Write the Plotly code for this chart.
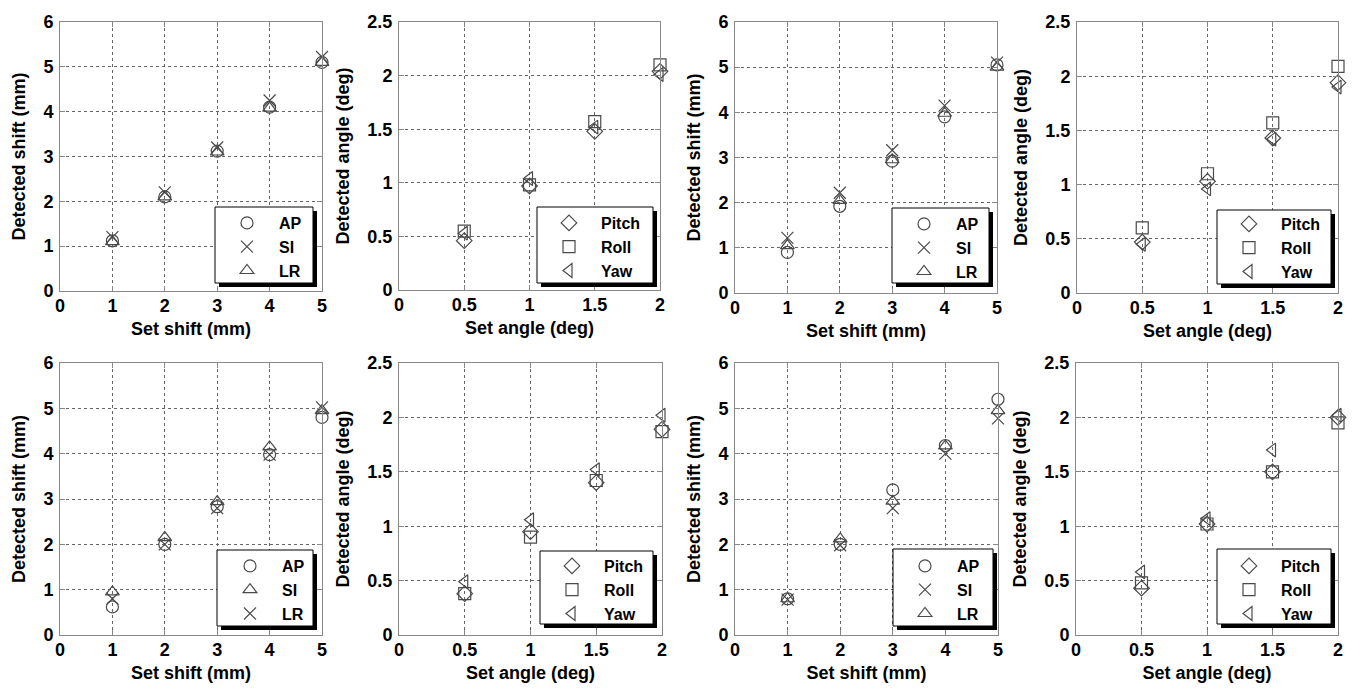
import plotly.graph_objects as go

W, H = 1360, 693

set_shift = [1, 2, 3, 4, 5]
set_angle = [0.5, 1, 1.5, 2]
shift_ticks = [0, 1, 2, 3, 4, 5]
shift_yticks = [0, 1, 2, 3, 4, 5, 6]
angle_xticks = [0, 0.5, 1, 1.5, 2]
angle_yticks = [0, 0.5, 1, 1.5, 2, 2.5]
angle_xticklabels = ["0", "0.5", "1", "1.5", "2"]
angle_yticklabels = ["0", "0.5", "1", "1.5", "2", "2.5"]

# Panel 1 (top-left)
p1_ap = [1.12, 2.10, 3.12, 4.10, 5.10]
p1_si = [1.20, 2.20, 3.20, 4.25, 5.22]
p1_lr = [1.10, 2.10, 3.10, 4.08, 5.10]
# Panel 2
p2_pitch = [0.46, 0.97, 1.48, 2.04]
p2_roll = [0.55, 0.98, 1.57, 2.10]
p2_yaw = [0.53, 1.04, 1.52, 2.01]
# Panel 3
p3_ap = [0.90, 1.92, 2.92, 3.90, 5.05]
p3_si = [1.22, 2.22, 3.16, 4.15, 5.10]
p3_lr = [1.05, 2.05, 2.95, 3.98, 5.00]
# Panel 4
p4_pitch = [0.47, 1.03, 1.43, 1.94]
p4_roll = [0.60, 1.10, 1.57, 2.09]
p4_yaw = [0.45, 0.96, 1.42, 1.90]
# Panel 5 (bottom-left) legend order AP, SI (triangle), LR (x)
p5_ap = [0.62, 2.00, 2.83, 3.98, 4.80]
p5_si = [0.95, 2.15, 2.94, 4.15, 4.95]
p5_lr = [0.80, 2.00, 2.80, 3.98, 5.02]
# Panel 6
p6_pitch = [0.38, 0.95, 1.40, 1.89]
p6_roll = [0.38, 0.90, 1.42, 1.87]
p6_yaw = [0.49, 1.06, 1.52, 2.02]
# Panel 7
p7_ap = [0.80, 2.00, 3.20, 4.18, 5.20]
p7_si = [0.78, 1.98, 2.80, 4.00, 4.78]
p7_lr = [0.80, 2.12, 2.95, 4.17, 4.95]
# Panel 8
p8_pitch = [0.43, 1.02, 1.50, 2.00]
p8_roll = [0.48, 1.02, 1.50, 1.95]
p8_yaw = [0.58, 1.07, 1.70, 2.02]

# layout (pixels): plot boxes, legend boxes, legend symbol x / middle row y
panels = [
    dict(kind="shift", box=(60, 22, 322, 291), leg=(215, 207, 317, 287), sym=(250, 247),
         series=[("AP", p1_ap, "circle-open"), ("SI", p1_si, "x-thin-open"), ("LR", p1_lr, "triangle-up-open")]),
    dict(kind="angle", box=(399, 22, 660, 290), leg=(537, 207, 657, 287), sym=(572, 247),
         series=[("Pitch", p2_pitch, "diamond-open"), ("Roll", p2_roll, "square-open"), ("Yaw", p2_yaw, "triangle-left-open")]),
    dict(kind="shift", box=(735, 22, 997, 293), leg=(892, 208, 993, 287), sym=(927, 248),
         series=[("AP", p3_ap, "circle-open"), ("SI", p3_si, "x-thin-open"), ("LR", p3_lr, "triangle-up-open")]),
    dict(kind="angle", box=(1077, 22, 1338, 293), leg=(1217, 210, 1335, 288), sym=(1252, 248),
         series=[("Pitch", p4_pitch, "diamond-open"), ("Roll", p4_roll, "square-open"), ("Yaw", p4_yaw, "triangle-left-open")]),
    dict(kind="shift", box=(60, 363, 322, 635), leg=(217, 550, 317, 630), sym=(253, 590),
         series=[("AP", p5_ap, "circle-open"), ("SI", p5_si, "triangle-up-open"), ("LR", p5_lr, "x-thin-open")]),
    dict(kind="angle", box=(399, 363, 662, 635), leg=(540, 551, 657, 628), sym=(575, 590),
         series=[("Pitch", p6_pitch, "diamond-open"), ("Roll", p6_roll, "square-open"), ("Yaw", p6_yaw, "triangle-left-open")]),
    dict(kind="shift", box=(735, 363, 998, 635), leg=(893, 549, 997, 630), sym=(928, 590),
         series=[("AP", p7_ap, "circle-open"), ("SI", p7_si, "x-thin-open"), ("LR", p7_lr, "triangle-up-open")]),
    dict(kind="angle", box=(1076, 363, 1338, 635), leg=(1217, 549, 1335, 628), sym=(1252, 590),
         series=[("Pitch", p8_pitch, "diamond-open"), ("Roll", p8_roll, "square-open"), ("Yaw", p8_yaw, "triangle-left-open")]),
]

FONT = "Liberation Sans, Arial, sans-serif"
tick_font = dict(family=FONT, size=18, color="black", weight="bold")
title_font = dict(family=FONT, size=18, color="black", weight="bold")
leg_font = dict(family=FONT, size=16, color="black", weight="bold")
MC = "#4a4a4a"
ITEMW = 54

fig = go.Figure()
layout = dict(width=W, height=H, margin=dict(l=0, r=0, t=0, b=0, autoexpand=False),
              paper_bgcolor="white", plot_bgcolor="white", showlegend=True)
shapes = []

def px(x):
    return x / W

def py(y):
    return 1 - y / H

for i, p in enumerate(panels, start=1):
    sfx = "" if i == 1 else str(i)
    x0, y0, x1, y1 = p["box"]
    legname = "legend" if i == 1 else f"legend{i}"
    xs = set_shift if p["kind"] == "shift" else set_angle
    for name, vals, sym in p["series"]:
        fig.add_trace(go.Scatter(
            x=xs, y=vals, mode="markers", name=name,
            xaxis=f"x{sfx}", yaxis=f"y{sfx}", legend=legname, cliponaxis=False,
            marker=dict(symbol=sym, size=12, color=MC, line=dict(color=MC, width=1.2)),
        ))
    common = dict(showline=True, linecolor="#888", linewidth=1, mirror="ticks",
                  ticks="inside", ticklen=5, tickcolor="#888",
                  showgrid=True, gridcolor="#666", griddash="dot", gridwidth=1,
                  zeroline=False, tickfont=tick_font, fixedrange=True)
    if p["kind"] == "shift":
        xa = dict(range=[0, 5], tickvals=shift_ticks, title=dict(text="Set shift (mm)", font=title_font, standoff=7))
        ya = dict(range=[0, 6], tickvals=shift_yticks, title=dict(text="Detected shift (mm)", font=title_font, standoff=13))
    else:
        xa = dict(range=[0, 2], tickvals=angle_xticks, ticktext=angle_xticklabels,
                  title=dict(text="Set angle (deg)", font=title_font, standoff=7))
        ya = dict(range=[0, 2.5], tickvals=angle_yticks, ticktext=angle_yticklabels,
                  title=dict(text="Detected angle (deg)", font=title_font, standoff=13))
    layout[f"xaxis{sfx}"] = dict(domain=[px(x0), px(x1)], anchor=f"y{sfx}", ticklabelstandoff=-2, **xa, **common)
    layout[f"yaxis{sfx}"] = dict(domain=[py(y1), py(y0)], anchor=f"x{sfx}", ticklabelstandoff=2, **ya, **common)

    L, T, R, B = p["leg"]
    shapes.append(dict(type="rect", xref="paper", yref="paper", x0=px(L + 4), x1=px(R), y0=py(B), y1=py(T + 4),
                       fillcolor="black", line=dict(width=0), layer="above"))
    shapes.append(dict(type="rect", xref="paper", yref="paper", x0=px(L), x1=px(R - 4), y0=py(B - 4), y1=py(T),
                       fillcolor="white", line=dict(color="black", width=1), layer="above"))
    sx, sy = p["sym"]
    layout[legname] = dict(x=px(sx - 35), y=py(sy), xanchor="left", yanchor="middle",
                           bgcolor="rgba(0,0,0,0)", borderwidth=0, font=leg_font,
                           itemwidth=ITEMW, tracegroupgap=0, itemclick=False, itemdoubleclick=False)

layout["shapes"] = shapes
fig.update_layout(**layout)
fig.write_html("out.html", config={"displayModeBar": False},
               post_script="document.body.style.margin='0';document.body.style.overflow='hidden';")
